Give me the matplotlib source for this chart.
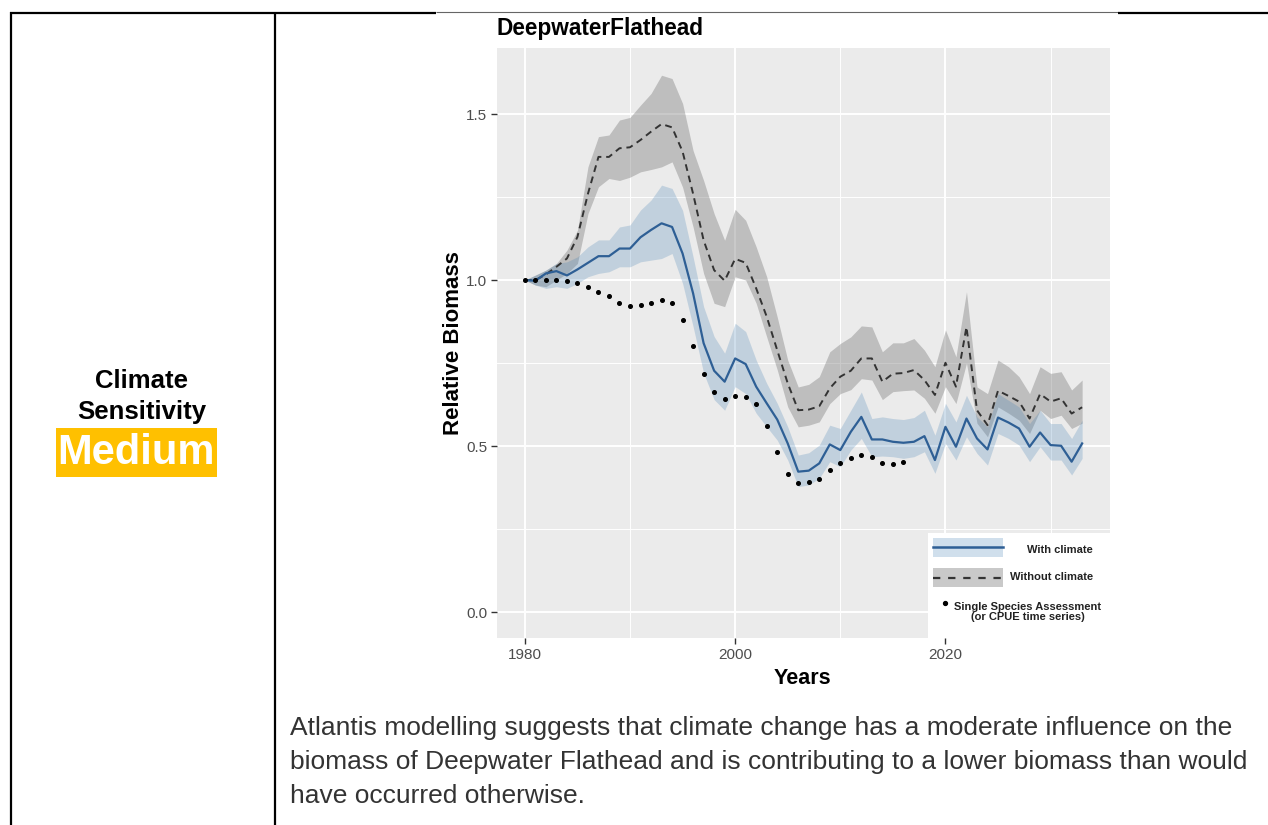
import matplotlib
matplotlib.use("Agg")
import matplotlib.pyplot as plt
from matplotlib.lines import Line2D
from matplotlib.patches import Rectangle

plt.rcParams['font.family'] = ['Liberation Sans', 'DejaVu Sans']

# Datos
anios = list(range(1980, 2034))

con_clima = [1.0, 0.998, 1.02, 1.027, 1.014, 1.032, 1.052, 1.072, 1.072, 1.095,
             1.095, 1.129, 1.151, 1.171, 1.16, 1.08, 0.96, 0.81, 0.727, 0.694,
             0.764, 0.747, 0.679, 0.629, 0.58, 0.508, 0.423, 0.426, 0.448, 0.505,
             0.488, 0.543, 0.588, 0.52, 0.52, 0.513, 0.51, 0.513, 0.53, 0.458,
             0.558, 0.498, 0.583, 0.523, 0.49, 0.586, 0.571, 0.553, 0.498, 0.541,
             0.503, 0.501, 0.453, 0.508]
con_clima_sup = [1.0, 1.015, 1.03, 1.05, 1.055, 1.07, 1.10, 1.121, 1.121, 1.16,
                 1.166, 1.211, 1.241, 1.286, 1.276, 1.21, 1.07, 0.92, 0.83, 0.78,
                 0.87, 0.845, 0.759, 0.689, 0.629, 0.558, 0.473, 0.48, 0.503, 0.563,
                 0.553, 0.608, 0.663, 0.583, 0.588, 0.583, 0.58, 0.586, 0.608, 0.533,
                 0.629, 0.573, 0.653, 0.588, 0.558, 0.658, 0.638, 0.618, 0.568, 0.608,
                 0.568, 0.568, 0.523, 0.578]
con_clima_inf = [1.0, 0.985, 0.975, 0.98, 0.975, 0.99, 1.01, 1.02, 1.025, 1.04,
                 1.04, 1.055, 1.06, 1.065, 1.08, 0.99, 0.86, 0.72, 0.64, 0.608,
                 0.679, 0.658, 0.599, 0.558, 0.518, 0.458, 0.378, 0.383, 0.403, 0.453,
                 0.438, 0.488, 0.523, 0.468, 0.47, 0.468, 0.463, 0.468, 0.483, 0.418,
                 0.508, 0.458, 0.528, 0.478, 0.443, 0.538, 0.523, 0.503, 0.453, 0.498,
                 0.458, 0.458, 0.413, 0.463]

sin_clima = [1.0, 1.0, 1.017, 1.04, 1.065, 1.13, 1.26, 1.371, 1.371, 1.397,
             1.40, 1.422, 1.447, 1.47, 1.46, 1.387, 1.26, 1.12, 1.03, 0.998,
             1.064, 1.052, 0.975, 0.89, 0.789, 0.689, 0.608, 0.61, 0.62, 0.674,
             0.709, 0.727, 0.764, 0.764, 0.694, 0.718, 0.72, 0.729, 0.699, 0.654,
             0.751, 0.679, 0.859, 0.608, 0.563, 0.667, 0.651, 0.634, 0.583, 0.657,
             0.634, 0.644, 0.598, 0.617]
sin_clima_sup = [1.0, 1.015, 1.03, 1.05, 1.09, 1.15, 1.341, 1.432, 1.437, 1.482,
                 1.49, 1.527, 1.562, 1.617, 1.607, 1.532, 1.39, 1.30, 1.20, 1.12,
                 1.213, 1.18, 1.10, 1.01, 0.889, 0.759, 0.678, 0.686, 0.709, 0.784,
                 0.809, 0.829, 0.862, 0.859, 0.784, 0.811, 0.811, 0.824, 0.789, 0.739,
                 0.85, 0.769, 0.965, 0.678, 0.658, 0.759, 0.739, 0.709, 0.658, 0.739,
                 0.719, 0.724, 0.669, 0.699]
sin_clima_inf = [1.0, 0.985, 0.98, 1.0, 1.02, 1.05, 1.2, 1.281, 1.306, 1.30,
                 1.31, 1.326, 1.333, 1.341, 1.356, 1.28, 1.16, 1.02, 0.93, 0.92,
                 1.01, 1.0, 0.93, 0.829, 0.73, 0.618, 0.558, 0.563, 0.573, 0.628,
                 0.658, 0.67, 0.703, 0.699, 0.64, 0.664, 0.667, 0.669, 0.644, 0.599,
                 0.679, 0.628, 0.75, 0.569, 0.528, 0.618, 0.599, 0.578, 0.538, 0.608,
                 0.583, 0.593, 0.553, 0.569]

anios_evaluacion = list(range(1980, 2017))
evaluacion = [1.0, 1.0, 1.0, 1.0, 0.998, 0.992, 0.98, 0.965, 0.952, 0.93,
              0.922, 0.925, 0.93, 0.94, 0.932, 0.88, 0.80, 0.717, 0.664, 0.642,
              0.651, 0.647, 0.626, 0.561, 0.481, 0.416, 0.389, 0.392, 0.40, 0.428,
              0.45, 0.463, 0.473, 0.468, 0.45, 0.447, 0.451]

etiquetas_leyenda = ['With climate', 'Without climate',
                     'Single Species Assessment\n(or CPUE time series)']

parrafo = ['Atlantis modelling suggests that climate change has a moderate influence on the',
           'biomass of Deepwater Flathead and is contributing to a lower biomass than would',
           'have occurred otherwise.']

W, H = 1268, 825

AZUL = '#2E5F95'
AZUL_BANDA = '#4682B4'
GRIS_BANDA = '#808080'
GUION = (0, (3.5, 2.5))


def fig_xy(x, y):
    # pixeles -> fraccion de figura
    return x / W, 1 - y / H


fig = plt.figure(figsize=(W / 100, H / 100), dpi=100)


# bordes de la tabla
def linea(x0, y0, x1, y1, lw, color='black'):
    a, b = fig_xy(x0, y0)
    c, d = fig_xy(x1, y1)
    fig.add_artist(Line2D([a, c], [b, d], color=color, lw=lw, solid_capstyle='butt'))


linea(11, 12, 11, 825, 1.6)
linea(275, 12, 275, 825, 1.6)
linea(10, 12.5, 436, 12.5, 1.6)
linea(436, 12, 1118, 12, 0.8, '#666666')
linea(1118, 12.5, 1268, 12.5, 1.6)

# celda izquierda
fig.text(*fig_xy(142, 381), 'Climate', ha='center', va='center',
         fontsize=18.5, fontweight='bold')
fig.text(*fig_xy(142, 412), 'Sensitivity', ha='center', va='center',
         fontsize=18.5, fontweight='bold')
x0, y0 = fig_xy(56, 477)
fig.add_artist(Rectangle((x0, y0), 161 / W, 49 / H, transform=fig.transFigure,
                         facecolor='#FFC000', edgecolor='none'))
fig.text(*fig_xy(136, 453), 'Medium', ha='center', va='center',
         fontsize=30, fontweight='bold', color='white')

# grafico
izq, der, arr, aba = 497, 1110, 48, 638
ax = fig.add_axes([izq / W, 1 - aba / H, (der - izq) / W, (aba - arr) / H])
ax.set_facecolor('#EBEBEB')
for s in ax.spines.values():
    s.set_visible(False)

ax.set_xlim(1977.35, 2035.65)
ax.set_ylim(-0.078, 1.699)
ax.set_xticks([1980, 2000, 2020])
ax.set_xticks([1990, 2010, 2030], minor=True)
ax.set_yticks([0, 0.5, 1.0, 1.5])
ax.set_yticklabels(['0.0', '0.5', '1.0', '1.5'])
ax.set_yticks([0.25, 0.75, 1.25], minor=True)
ax.grid(which='major', color='white', lw=1.4)
ax.grid(which='minor', color='white', lw=0.7)
ax.set_axisbelow(True)
ax.tick_params(which='major', length=4, width=1, color='#333333',
               labelsize=11, labelcolor='#4D4D4D', pad=3)
ax.tick_params(which='minor', length=0)

ax.fill_between(anios, sin_clima_inf, sin_clima_sup, color=GRIS_BANDA, alpha=0.42, lw=0)
ax.fill_between(anios, con_clima_inf, con_clima_sup, color=AZUL_BANDA, alpha=0.25, lw=0)
ax.plot(anios, sin_clima, color='#333333', lw=1.4, ls=GUION)
ax.plot(anios, con_clima, color=AZUL, lw=1.6)
ax.plot(anios_evaluacion, evaluacion, ls='none', marker='o', ms=2.6, color='black')

ax.set_title('DeepwaterFlathead', loc='left', fontsize=16.3, fontweight='bold', pad=9)
ax.set_xlabel('Years', fontsize=15.5, fontweight='bold')
ax.xaxis.set_label_coords(0.499, -0.05)
ax.set_ylabel('Relative Biomass', fontsize=16, fontweight='bold')
ax.yaxis.set_label_coords(-0.054, 0.5)

# leyenda (en fraccion de ejes, abajo a la derecha)
ta = ax.transAxes
ax.add_patch(Rectangle((0.703, 0.0), 0.297, 0.178, transform=ta, facecolor='white',
                       edgecolor='none', zorder=5))
ax.add_patch(Rectangle((0.7113, 0.1373), 0.1141, 0.0322, transform=ta,
                       facecolor=AZUL_BANDA, alpha=0.25, lw=0, zorder=6))
ax.add_line(Line2D([0.7113, 0.8254], [0.155, 0.155], transform=ta, color=AZUL,
                   lw=1.8, zorder=7))
ax.add_patch(Rectangle((0.7113, 0.0864), 0.1141, 0.0322, transform=ta,
                       facecolor=GRIS_BANDA, alpha=0.42, lw=0, zorder=6))
ax.add_line(Line2D([0.7113, 0.8254], [0.1025, 0.1025], transform=ta, color='#333333',
                   lw=1.6, ls=(0, (3.3, 3.5)), zorder=7))
ax.add_line(Line2D([0.7308], [0.060], transform=ta, ls='none', marker='o', ms=2.8,
                   color='black', zorder=7))
props = dict(fontsize=8, fontweight='bold', color='#222222', transform=ta, zorder=8)
ax.text(0.9723, 0.149, etiquetas_leyenda[0], ha='right', va='center', **props)
ax.text(0.9723, 0.1034, etiquetas_leyenda[1], ha='right', va='center', **props)
ax.text(0.8654, 0.0441, etiquetas_leyenda[2], ha='center', va='center',
        multialignment='center', linespacing=1.0, **props)

# texto inferior
for i, linea_txt in enumerate(parrafo):
    fig.text(*fig_xy(290, 735 + 34 * i), linea_txt, ha='left', va='baseline',
             fontsize=19, color='#333333')

fig.savefig('out.png', dpi=100)
